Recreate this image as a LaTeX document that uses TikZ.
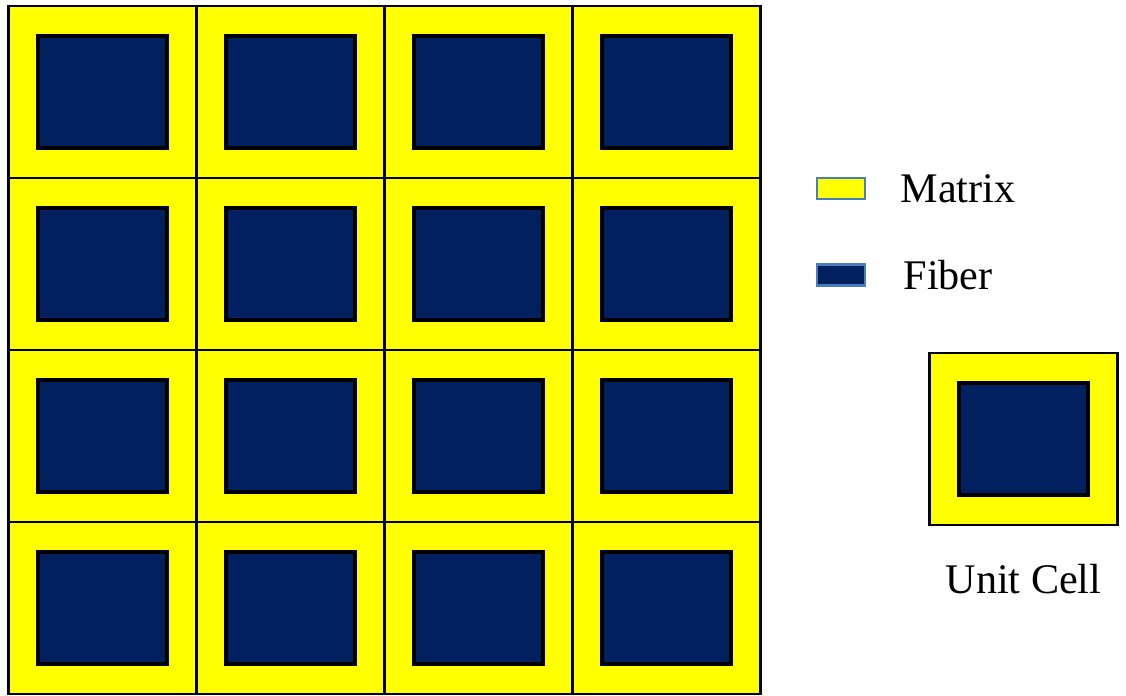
\documentclass[tikz,border=0pt]{standalone}
\usepackage{fontspec}
\setmainfont{Liberation Serif}
\usetikzlibrary{positioning}
\definecolor{fibernavy}{HTML}{002060}
\definecolor{matrixyellow}{HTML}{FFFF00}
\definecolor{keyblue}{HTML}{4A7EBB}

\begin{document}
\begin{tikzpicture}[
    x=0.02cm, y=-0.02cm,
    cell/.style={rectangle, draw, line width=1.6pt, fill=matrixyellow, minimum width=3.76cm, minimum height=3.44cm, inner sep=0pt},
    fiber/.style={rectangle, draw, line width=2pt, fill=fibernavy, minimum width=2.58cm, minimum height=2.24cm, inner sep=0pt},
    keybox/.style={rectangle, draw=keyblue, line width=1.6pt, minimum width=0.96cm, minimum height=0.42cm, inner sep=0pt},
    keytext/.style={font=\fontsize{24}{28}\selectfont}
]
\useasboundingbox (0,0) rectangle (1126,696);

% Composite: 4x4 cells
\foreach \i in {0,...,3} {
  \foreach \j in {0,...,3} {
    \node[cell] (cell-\i-\j) at ({102.5+188*\i},{92+172*\j}) {};
    \node[fiber] (fib-\i-\j) at (cell-\i-\j.center) {};
  }
}

% Legend
\node[keybox, fill=matrixyellow] (mkey) at (841,188.5) {};
\node[keytext, right=0.56cm of mkey] (mtext) {Matrix};
\node[keybox, fill=fibernavy] (fkey) at (841,275) {};
\node[keytext, right=0.62cm of fkey] (ftext) {Fiber};

% Unit cell
\node[cell] (unit) at (1023.5,439) {};
\node[fiber] (unitfib) at (unit.center) {};
\node[keytext, below=0.64cm of unit] (unittext) {Unit Cell};

\end{tikzpicture}
\end{document}
